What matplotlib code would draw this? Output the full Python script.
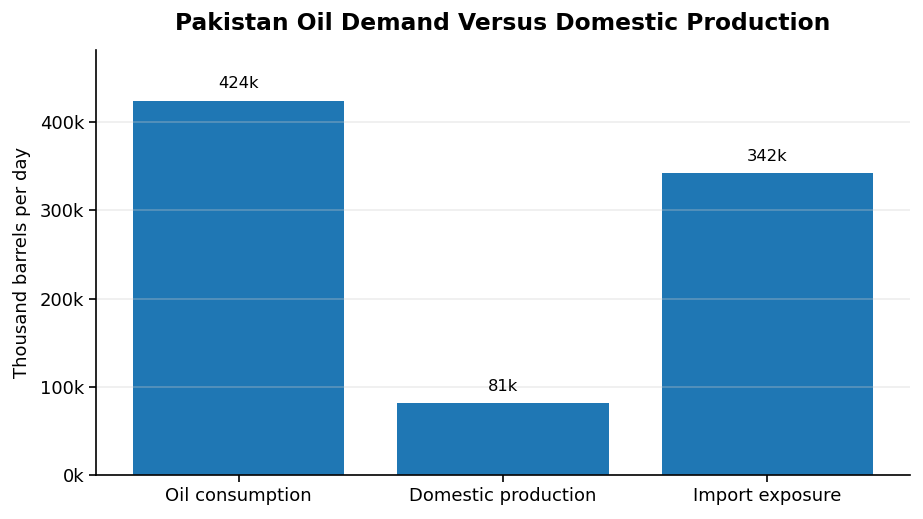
import matplotlib
matplotlib.use("Agg")
import matplotlib.pyplot as plt
from matplotlib.ticker import FuncFormatter

categories = ["Oil consumption", "Domestic production", "Import exposure"]
values = [424, 81, 342]  # thousand barrels per day
labels = ["424k", "81k", "342k"]

fig = plt.figure(figsize=(9.23, 5.19), dpi=100)
ax = fig.add_axes([0.104, 0.085, 0.882, 0.819])
bars = ax.bar(categories, values, width=0.8, color="#1f77b4", zorder=1)
ax.set_ylim(0, 482)
ax.yaxis.set_major_formatter(FuncFormatter(lambda v, p: f"{int(v)}k"))
ax.set_yticks([0, 100, 200, 300, 400])
ax.grid(axis="y", color="#cccccc", alpha=0.35, linewidth=1.2, zorder=3)
for s in ["top", "right"]:
    ax.spines[s].set_visible(False)
ax.spines["left"].set_linewidth(1.2)
ax.spines["bottom"].set_linewidth(1.2)
ax.tick_params(labelsize=13, width=1.2, length=5)
ax.set_ylabel("Thousand barrels per day", fontsize=13, labelpad=6)
for b, lab in zip(bars, labels):
    ax.annotate(lab, (b.get_x() + b.get_width() / 2, b.get_height()),
                xytext=(0, 7), textcoords="offset points", ha="center", va="bottom", fontsize=11.8)
ax.set_title("Pakistan Oil Demand Versus Domestic Production", fontsize=16.8, fontweight="bold", pad=14)
fig.savefig("out.png", dpi=100)
